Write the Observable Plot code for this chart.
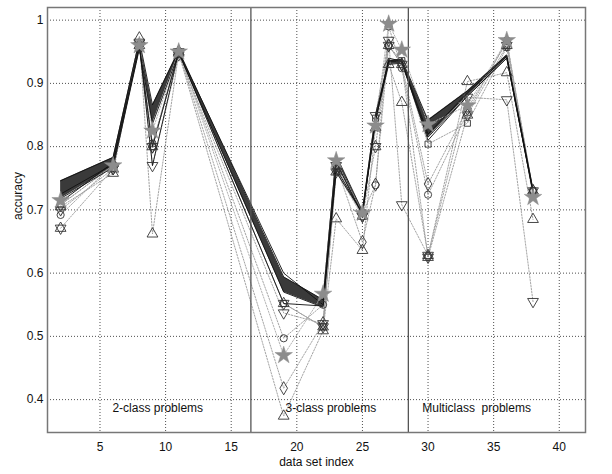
<!DOCTYPE html>
<html>
<head>
<meta charset="utf-8">
<script src="https://cdn.jsdelivr.net/npm/d3@7"></script>
<script src="https://cdn.jsdelivr.net/npm/@observablehq/plot@0.6"></script>
<style>
  html, body { margin: 0; padding: 0; background: #fff; }
  #chart { width: 612px; height: 474px; }
</style>
</head>
<body>
<div id="chart"></div>
<script>
// ---- data ----
const xs = [2, 6, 8, 9, 11, 19, 22, 23, 25, 26, 27, 28, 30, 33, 36, 38];

const bandUpper = [0.746, 0.783, 0.968, 0.866, 0.952, 0.594, 0.558, 0.786, 0.698, 0.850, 0.936, 0.938, 0.842, 0.888, 0.945, 0.732];
const bandLower = [0.718, 0.767, 0.955, 0.836, 0.948, 0.570, 0.546, 0.775, 0.692, 0.845, 0.930, 0.932, 0.815, 0.880, 0.940, 0.727];
const lineA     = [0.712, 0.775, 0.962, 0.770, 0.950, 0.600, 0.550, 0.765, 0.695, 0.840, 0.935, 0.935, 0.820, 0.885, 0.943, 0.730];
const lineB     = [0.725, 0.772, 0.958, 0.800, 0.950, 0.552, 0.548, 0.760, 0.695, 0.840, 0.940, 0.935, 0.810, 0.880, 0.940, 0.728];

const starVals     = [0.715, 0.770, 0.960, 0.825, 0.950, 0.470, 0.567, 0.778, 0.695, 0.833, 0.994, 0.953, 0.835, 0.865, 0.968, 0.720];
const circleVals   = [0.692, 0.772, 0.955, 0.805, 0.950, 0.497, 0.550, 0.765, 0.695, 0.739, 0.990, 0.924, 0.724, 0.854, 0.968, 0.730];
const squareVals   = [0.708, 0.770, 0.960, 0.800, 0.950, 0.552, 0.515, 0.760, 0.695, 0.845, 0.959, 0.936, 0.804, 0.837, 0.957, 0.730];
const triUpVals    = [0.705, 0.758, 0.972, 0.662, 0.948, 0.374, 0.509, 0.686, 0.636, 0.830, 0.930, 0.870, 0.628, 0.903, 0.917, 0.685];
const triDownVals  = [0.700, 0.765, 0.965, 0.770, 0.945, 0.537, 0.520, 0.770, 0.690, 0.849, 0.968, 0.708, 0.628, 0.878, 0.874, 0.555];
const diamondVals  = [0.708, 0.770, 0.960, 0.800, 0.950, 0.418, 0.521, 0.770, 0.649, 0.740, 0.960, 0.930, 0.741, 0.860, 0.965, 0.730];
const hexVals      = [0.671, 0.765, 0.960, 0.800, 0.950, 0.552, 0.515, 0.760, 0.690, 0.800, 0.960, 0.930, 0.625, 0.850, 0.960, 0.730];

const xTicks = [5, 10, 15, 20, 25, 30, 35, 40];
const yTicks = [0.4, 0.5, 0.6, 0.7, 0.8, 0.9, 1];
const yTickLabels = ["0.4", "0.5", "0.6", "0.7", "0.8", "0.9", "1"];
const separators = [16.5, 28.5];
const groupLabels = ["2-class problems", "3-class problems", "Multiclass  problems"];
const groupLabelX = [9.4, 22.6, 33.7];
const groupLabelY = [0.386, 0.386, 0.386];

// ---- build tables ----
const band = xs.map((x, i) => ({x, lo: bandLower[i], hi: bandUpper[i]}));
const blackLines = [];
xs.forEach((x, i) => {
  blackLines.push({x, y: lineA[i], s: "A"});
  blackLines.push({x, y: lineB[i], s: "B"});
  blackLines.push({x, y: bandUpper[i], s: "U"});
  blackLines.push({x, y: bandLower[i], s: "L"});
});

const hexagram = {
  draw(context, size) {
    const r = Math.sqrt(size / 1.3);
    for (const off of [-Math.PI / 2, Math.PI / 2]) {
      for (let k = 0; k < 3; k++) {
        const a = off + k * 2 * Math.PI / 3;
        const px = r * Math.cos(a), py = r * Math.sin(a);
        if (k === 0) context.moveTo(px, py); else context.lineTo(px, py);
      }
      context.closePath();
    }
  }
};

const markerSeries = [
  {name: "circle", vals: circleVals, symbol: "circle", rotate: 0, r: 3.6},
  {name: "square", vals: squareVals, symbol: "square", rotate: 0, r: 3.4},
  {name: "triUp", vals: triUpVals, symbol: "triangle", rotate: 0, r: 4},
  {name: "triDown", vals: triDownVals, symbol: "triangle", rotate: 180, r: 4},
  {name: "diamond", vals: diamondVals, symbol: "diamond", rotate: 0, r: 4},
  {name: "hex", vals: hexVals, symbol: hexagram, rotate: 0, r: 4}
];
const markerRows = [];
markerSeries.forEach(s => xs.forEach((x, i) => markerRows.push({x, y: s.vals[i], s: s.name})));
const starRows = xs.map((x, i) => ({x, y: starVals[i]}));

const labels = groupLabels.map((t, i) => ({t, x: groupLabelX[i], y: groupLabelY[i]}));

const font = "Liberation Sans, Arial, sans-serif";

const marks = [
  Plot.ruleX(xTicks, {stroke: "#222", strokeWidth: 0.8, strokeDasharray: "1,2"}),
  Plot.ruleY(yTicks, {stroke: "#222", strokeWidth: 0.8, strokeDasharray: "1,2"}),
  Plot.areaY(band, {x: "x", y1: "lo", y2: "hi", fill: "#3a3a3a", curve: "linear"}),
  Plot.line(markerRows, {x: "x", y: "y", z: "s", stroke: "#9a9a9a", strokeWidth: 0.9, strokeDasharray: "1.5,1.5"}),
  Plot.line(starRows, {x: "x", y: "y", stroke: "#aaaaaa", strokeWidth: 0.9, strokeDasharray: "1.5,1.5"}),
  Plot.line(blackLines, {x: "x", y: "y", z: "s", stroke: "#111", strokeWidth: 0.9}),
  Plot.ruleX(separators, {stroke: "#555", strokeWidth: 1.3}),
  ...markerSeries.map(s =>
    Plot.dot(markerRows.filter(d => d.s === s.name), {
      x: "x", y: "y", symbol: () => s.symbol, r: s.r, rotate: s.rotate,
      stroke: "#333", strokeWidth: 0.9, fill: "none"
    })
  ),
  Plot.dot(starRows, {x: "x", y: "y", symbol: "star", r: 5.5, fill: "#8c8c8c", stroke: "#8c8c8c", strokeWidth: 0.5}),
  Plot.text(labels, {x: "x", y: "y", text: "t", fontSize: 12, fill: "#111", fontFamily: font}),
  Plot.axisX({ticks: xTicks, tickSize: 0, tickPadding: 10, fontSize: 12, label: null, fontFamily: font}),
  Plot.axisY({ticks: yTicks, tickFormat: (d) => yTickLabels[yTicks.indexOf(d)], tickSize: 0, tickPadding: 4, fontSize: 12, label: null, fontFamily: font}),
  Plot.text(["data set index"], {frameAnchor: "bottom", lineAnchor: "top", dy: 25, fontSize: 12, fill: "#111", fontFamily: font}),
  Plot.text(["accuracy"], {frameAnchor: "left", rotate: -90, dx: -29, fontSize: 12, fill: "#111", fontFamily: font}),
  Plot.frame({stroke: "#777", strokeWidth: 1.5})
];

const chart = Plot.plot({
  width: 612,
  height: 474,
  marginLeft: 47,
  marginRight: 27,
  marginTop: 7,
  marginBottom: 42,
  style: {background: "#fff", color: "#111", fontFamily: font},
  x: {domain: [1, 42]},
  y: {domain: [0.348, 1.02]},
  marks
});
document.getElementById("chart").appendChild(chart);
</script>
</body>
</html>
